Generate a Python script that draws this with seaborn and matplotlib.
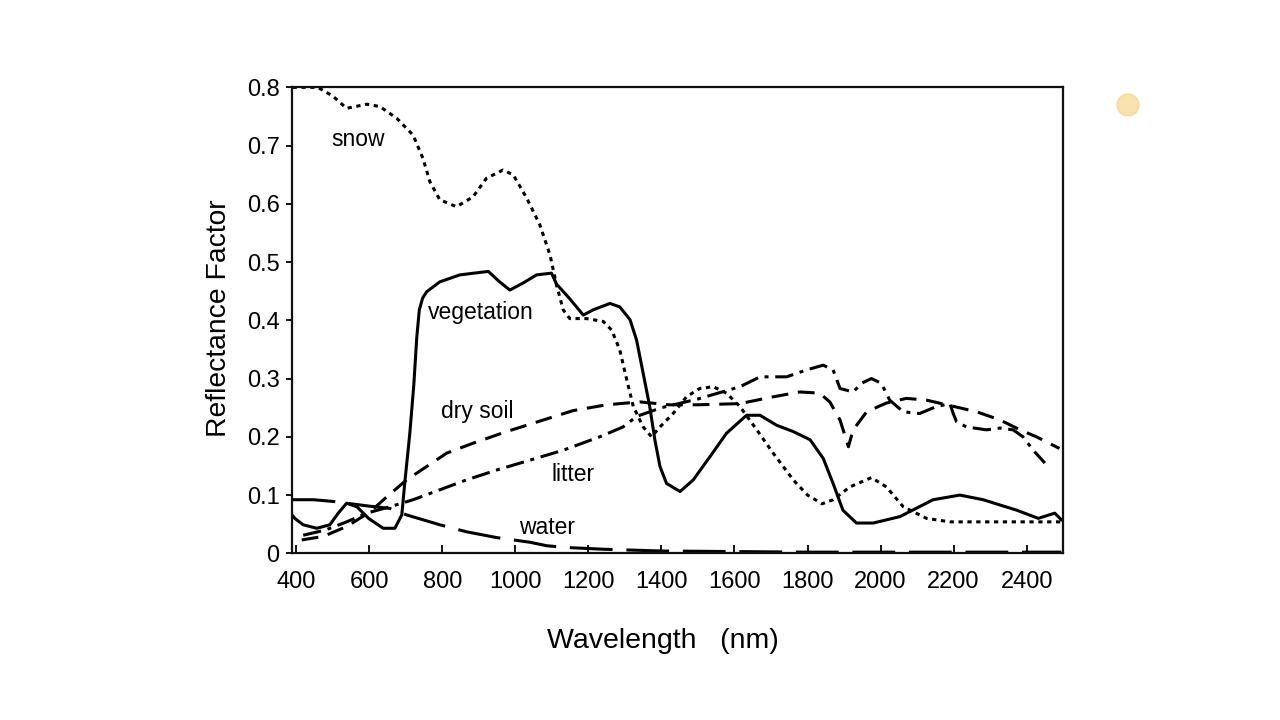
import numpy as np
import pandas as pd
import seaborn as sns
import matplotlib.pyplot as plt
from matplotlib.patches import Ellipse

# reflectance curves (wavelength in nm)
snow_wl = [390, 459, 500, 538, 593, 629, 675, 720, 747, 766, 793, 839, 884, 921, 966, 994,
           1031, 1067, 1095, 1113, 1131, 1149, 1195, 1241, 1264, 1286, 1305, 1323, 1350, 1373,
           1396, 1432, 1469, 1505, 1542, 1578, 1615, 1661, 1706, 1761, 1800, 1840, 1870, 1916,
           1975, 2016, 2062, 2126, 2190, 2327, 2495]
snow_r = [0.800, 0.800, 0.785, 0.764, 0.771, 0.767, 0.747, 0.718, 0.678, 0.638, 0.607, 0.595,
          0.612, 0.644, 0.658, 0.650, 0.610, 0.564, 0.512, 0.460, 0.418, 0.403, 0.403, 0.398,
          0.383, 0.349, 0.298, 0.252, 0.217, 0.200, 0.217, 0.240, 0.269, 0.283, 0.286, 0.275,
          0.252, 0.212, 0.172, 0.126, 0.100, 0.085, 0.092, 0.114, 0.130, 0.114, 0.080, 0.060,
          0.054, 0.054, 0.054]

veg_wl = [390, 396, 419, 456, 492, 515, 538, 566, 598, 638, 670, 689, 698, 711, 722, 730, 737,
          746, 757, 793, 848, 926, 957, 985, 1021, 1058, 1099, 1113, 1149, 1186, 1213, 1259, 1286,
          1314, 1332, 1350, 1368, 1382, 1396, 1414, 1451, 1487, 1533, 1578, 1633, 1670, 1715,
          1761, 1807, 1843, 1870, 1897, 1934, 1980, 2053, 2144, 2217, 2281, 2373, 2432, 2477,
          2496]
veg_r = [0.065, 0.060, 0.049, 0.043, 0.049, 0.069, 0.086, 0.080, 0.060, 0.043, 0.043, 0.066,
         0.126, 0.206, 0.290, 0.370, 0.418, 0.438, 0.449, 0.466, 0.478, 0.484, 0.466, 0.452, 0.464,
         0.478, 0.481, 0.462, 0.437, 0.409, 0.418, 0.429, 0.423, 0.401, 0.366, 0.309, 0.252,
         0.195, 0.149, 0.120, 0.106, 0.126, 0.166, 0.206, 0.237, 0.237, 0.220, 0.209, 0.195,
         0.163, 0.120, 0.074, 0.052, 0.052, 0.063, 0.092, 0.100, 0.092, 0.074, 0.060, 0.069,
         0.057]

soil_wl = [415, 474, 538, 602, 648, 702, 757, 812, 884, 976, 1067, 1158, 1250, 1341, 1420,
           1500, 1615, 1700, 1779, 1833, 1861, 1889, 1912, 1925, 1962, 2016, 2071, 2126, 2181,
           2263, 2327, 2382, 2427, 2490]
soil_r = [0.023, 0.029, 0.046, 0.071, 0.097, 0.126, 0.149, 0.172, 0.189, 0.209, 0.227, 0.245,
          0.255, 0.260, 0.255, 0.255, 0.257, 0.268, 0.277, 0.275, 0.260, 0.229, 0.183, 0.212,
          0.243, 0.258, 0.266, 0.263, 0.255, 0.243, 0.229, 0.212, 0.200, 0.180]

litter_wl = [419, 480, 538, 593, 657, 720, 793, 866, 949, 1040, 1131, 1231, 1295, 1332, 1400,
             1500, 1615, 1670, 1743, 1798, 1843, 1870, 1889, 1925, 1948, 1975, 2002, 2025, 2062,
             2107, 2153, 2190, 2199, 2208, 2235, 2290, 2327, 2363, 2390, 2418, 2450]
litter_r = [0.031, 0.040, 0.054, 0.069, 0.080, 0.092, 0.109, 0.126, 0.143, 0.160, 0.177, 0.200,
            0.217, 0.235, 0.250, 0.265, 0.286, 0.303, 0.303, 0.315, 0.323, 0.315, 0.283, 0.277,
            0.292, 0.300, 0.292, 0.263, 0.243, 0.240, 0.252, 0.257, 0.240, 0.226, 0.217, 0.212,
            0.215, 0.212, 0.200, 0.177, 0.155]

water_wl = [390, 447, 502, 538, 600, 657, 702, 793, 866, 949, 994, 1040, 1086, 1140, 1241,
            1400, 1600, 1800, 2000, 2200, 2495]
water_r = [0.092, 0.092, 0.089, 0.086, 0.081, 0.077, 0.066, 0.049, 0.037, 0.027, 0.023, 0.019,
           0.013, 0.010, 0.007, 0.004, 0.003, 0.002, 0.002, 0.002, 0.002]

surfaces = ['snow', 'vegetation', 'dry soil', 'litter', 'water']
x_ticks = [400, 600, 800, 1000, 1200, 1400, 1600, 1800, 2000, 2200, 2400]
y_ticks = [0, 0.1, 0.2, 0.3, 0.4, 0.5, 0.6, 0.7, 0.8]
y_labels = ['0', '0.1', '0.2', '0.3', '0.4', '0.5', '0.6', '0.7', '0.8']

frames = []
for name, wl, r in zip(surfaces,
                       [snow_wl, veg_wl, soil_wl, litter_wl, water_wl],
                       [snow_r, veg_r, soil_r, litter_r, water_r]):
    frames.append(pd.DataFrame({'wavelength': wl, 'reflectance': r, 'surface': name}))
df = pd.concat(frames, ignore_index=True)

sns.set_style('ticks')
plt.rcParams['font.family'] = ['Liberation Sans', 'DejaVu Sans']
plt.rcParams.update({'text.color': 'black', 'axes.labelcolor': 'black',
                     'xtick.color': 'black', 'ytick.color': 'black'})

fig = plt.figure(figsize=(12.8, 7.2), dpi=100)
ax = fig.add_axes([0.2283, 0.2315, 0.602, 0.6472])

dashes = {
    'snow': (1.4, 1.5),
    'vegetation': '',
    'dry soil': (5.5, 3.2),
    'litter': (6, 2.2, 1.3, 2.2),
    'water': (14, 4.5),
}
sns.lineplot(data=df, x='wavelength', y='reflectance', hue='surface', style='surface',
             palette=['black'] * 5, dashes=dashes, estimator=None, sort=False,
             linewidth=2.2, legend=False, ax=ax)

# curve labels
ax.text(569, 0.710, 'snow', fontsize=16.5, ha='center', va='center')
ax.text(906, 0.413, 'vegetation', fontsize=16.5, ha='center', va='center')
ax.text(895, 0.243, 'dry soil', fontsize=16.5, ha='center', va='center')
ax.text(1157, 0.136, 'litter', fontsize=16.5, ha='center', va='center')
ax.text(1086, 0.045, 'water', fontsize=16.5, ha='center', va='center')

ax.set_xlim(389, 2499)
ax.set_ylim(0, 0.8)
ax.set_xticks(x_ticks)
ax.set_yticks(y_ticks)
ax.set_yticklabels(y_labels)
ax.tick_params(axis='x', direction='in', length=6, width=1.3, pad=13, labelsize=17)
ax.tick_params(axis='y', direction='out', length=4, width=1.3, pad=5, labelsize=17)
for s in ax.spines.values():
    s.set_linewidth(1.6)
    s.set_color('#111111')

ax.set_xlabel('Wavelength   (nm)', fontsize=20.5)
ax.set_ylabel('Reflectance Factor', fontsize=20.3)
ax.xaxis.set_label_coords(0.481, -0.16)
ax.yaxis.set_label_coords(-0.078, 0.505)

# cursor highlight from the screen capture
fig.add_artist(Ellipse((1128 / 1280, 1 - 105 / 720), 22 / 1280, 22 / 720,
                       transform=fig.transFigure, color='#f6cf7a', alpha=0.6))

fig.savefig('out.png', dpi=100)
